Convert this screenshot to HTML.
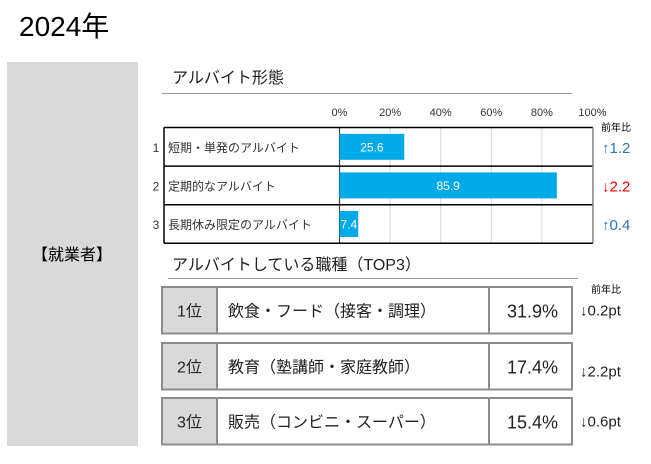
<!DOCTYPE html>
<html><head><meta charset="utf-8"><style>
body{margin:0;background:#fff;}
svg{display:block;font-family:"Liberation Sans","Noto Sans CJK JP",sans-serif;}
</style></head><body>
<svg width="651" height="464" viewBox="0 0 651 464" xmlns="http://www.w3.org/2000/svg">
<text x="19" y="36" font-size="28" fill="#000">2024年</text>
<rect x="7" y="62" width="131" height="384" fill="#d9d9d9"/>
<text x="72" y="260" font-size="16" text-anchor="middle" fill="#000">【就業者】</text>

<text x="172" y="83" font-size="16" fill="#222">アルバイト形態</text>
<line x1="162" y1="93.5" x2="572" y2="93.5" stroke="#999" stroke-width="1"/>
<g id="chart"></g>

<text x="616" y="131" font-size="10" text-anchor="middle" fill="#000">前年比</text>
<g id="yoy"></g>

<text x="172" y="270" font-size="16" fill="#222">アルバイトしている職種（TOP3）</text>
<line x1="168" y1="278.5" x2="578" y2="278.5" stroke="#999" stroke-width="1"/>
<text x="606" y="293" font-size="10" text-anchor="middle" fill="#000">前年比</text>
<g id="jobs"></g>
</svg>
<script>
const categories=["短期・単発のアルバイト","定期的なアルバイト","長期休み限定のアルバイト"];
const values=[25.6,85.9,7.4];
const ticks=[0,20,40,60,80,100];
const yoyLabels=["↑1.2","↓2.2","↑0.4"];
const yoyUp=[true,false,true];
const jobRanks=["1位","2位","3位"];
const jobNames=["飲食・フード（接客・調理）","教育（塾講師・家庭教師）","販売（コンビニ・スーパー）"];
const jobPcts=["31.9%","17.4%","15.4%"];
const jobYoy=["↓0.2pt","↓2.2pt","↓0.6pt"];

const NS="http://www.w3.org/2000/svg";
function mk(tag,attrs,parent,text){const e=document.createElementNS(NS,tag);for(const k in attrs)e.setAttribute(k,attrs[k]);if(text!==undefined)e.textContent=text;parent.appendChild(e);return e;}
const x0=339.5,x1=592.5,topY=127.5,rowH=38.6;
const xs=v=>x0+(x1-x0)*v/100;
const g=document.getElementById('chart');
ticks.forEach(t=>{
 const l=mk('line',{x1:xs(t),x2:xs(t),y1:topY,y2:topY+rowH*3,stroke:t===0?'#444':'#d9d9d9','stroke-width':t===0?1.2:1},g);
 
 
 const tx=mk('text',{x:xs(t),y:116,'font-size':11,'text-anchor':'middle',fill:'#333'},g,t+'%');
 
 
});
for(let i=0;i<=3;i++){
 const l=mk('line',{x1:164,x2:593,y1:topY+rowH*i,y2:topY+rowH*i,stroke:'#000','stroke-width':1.5},g);
 
 
}
let vb=mk('line',{x1:164,x2:164,y1:topY,y2:topY+rowH*3,stroke:'#000','stroke-width':1.5},g);


vb=mk('line',{x1:593,x2:593,y1:topY,y2:topY+rowH*3,stroke:'#888','stroke-width':1.5},g);


categories.forEach((c,i)=>{
 const cy=topY+rowH*i+rowH/2;
 const n=mk('text',{x:156,y:cy+5,'font-size':12,'text-anchor':'middle',fill:'#333'},g,String(i+1));
 
 
 const lab=mk('text',{x:168,y:cy+5,'font-size':12,fill:'#333'},g,c);
 
 
 const b=mk('rect',{x:x0,y:cy-13,width:xs(values[i])-x0,height:26,fill:'#00a9e8'},g);
 
 
 const w=xs(values[i])-x0;
 const v=mk('text',{x:w<30?x0+1:x0+w/2,y:cy+4.5,'font-size':12,'text-anchor':w<30?'start':'middle',fill:'#fff'},g,values[i].toFixed(1));
 
 
 const y=mk('text',{x:602,y:cy+6,'font-size':15,fill:yoyUp[i]?'#2e75b6':'#ff0000'},document.getElementById('yoy'),yoyLabels[i]);
 
 
});
const jg=document.getElementById('jobs');
const jTops=[287,343,398],jH=46.5;
jobRanks.forEach((r,i)=>{
 const yT=jTops[i],cy=yT+jH/2;
 const box=mk('rect',{x:162,y:yT,width:410,height:jH,fill:'#fff',stroke:'#8c8c8c','stroke-width':2},jg);
 
 
 const rc=mk('rect',{x:162,y:yT,width:55,height:jH,fill:'#d9d9d9',stroke:'#8c8c8c','stroke-width':2},jg);
 
 
 const d=mk('line',{x1:489,x2:489,y1:yT,y2:yT+jH,stroke:'#8c8c8c','stroke-width':2},jg);
 
 
 const rt=mk('text',{x:189.5,y:cy+6,'font-size':16,'text-anchor':'middle',fill:'#222'},jg,r);
 
 
 const nt=mk('text',{x:228,y:cy+6,'font-size':16,fill:'#222'},jg,jobNames[i]);
 
 
 const pt=mk('text',{x:558,y:cy+7,'font-size':18,'text-anchor':'end',fill:'#222'},jg,jobPcts[i]);
 
 
 const yy=mk('text',{x:580,y:(i===1?cy+10:cy+5),'font-size':15,fill:'#222'},jg,jobYoy[i]);
 
 
});
</script>
</body></html>
